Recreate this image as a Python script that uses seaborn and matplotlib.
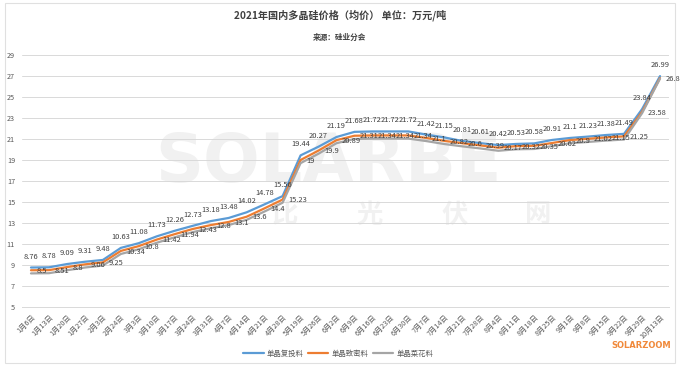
import pandas as pd
import matplotlib.pyplot as plt
import seaborn as sns
from matplotlib.patches import Rectangle

# === DATA ===
dates = ["1月6日", "1月13日", "1月20日", "1月27日", "2月3日", "2月24日", "3月3日", "3月10日",
         "3月17日", "3月24日", "3月31日", "4月7日", "4月14日", "4月21日", "4月28日", "5月19日",
         "5月26日", "6月2日", "6月9日", "6月16日", "6月23日", "6月30日", "7月7日", "7月14日",
         "7月21日", "7月28日", "8月4日", "8月11日", "8月18日", "8月25日", "9月1日", "9月8日",
         "9月15日", "9月22日", "9月29日", "10月13日"]

fu_tou = [8.76, 8.78, 9.09, 9.31, 9.48, 10.63, 11.08, 11.73, 12.26, 12.73, 13.18, 13.48,
          14.02, 14.78, 15.56, 19.44, 20.27, 21.19, 21.68, 21.72, 21.72, 21.72, 21.42, 21.15,
          20.81, 20.61, 20.42, 20.53, 20.58, 20.91, 21.1, 21.23, 21.38, 21.49, 23.84, 26.99]

zhi_mi = [8.5, 8.51, 8.8, 9.06, 9.25, 10.34, 10.8, 11.42, 11.94, 12.43, 12.8, 13.1,
          13.6, 14.4, 15.23, 19, 19.9, 20.89, 21.31, 21.34, 21.34, 21.34, 21.1, 20.82,
          20.6, 20.39, 20.17, 20.32, 20.35, 20.62, 20.9, 21.02, 21.15, 21.25, 23.58, 26.8]

# 菜花料 has no printed labels, values estimated from the line position
cai_hua = [8.2, 8.22, 8.5, 8.76, 8.95, 10.05, 10.5, 11.12, 11.64, 12.13, 12.5, 12.8,
           13.3, 14.1, 14.93, 18.7, 19.6, 20.6, 21.0, 21.04, 21.04, 21.04, 20.8, 20.52,
           20.3, 20.1, 19.88, 20.02, 20.05, 20.32, 20.6, 20.72, 20.85, 20.95, 23.45, 26.75]

series_names = ["单晶复投料", "单晶致密料", "单晶菜花料"]
colors = ["#5b9bd5", "#ed7d31", "#a5a5a5"]

# === STYLE ===
sns.set_style("white")
plt.rcParams["font.family"] = ["Noto Sans CJK SC", "DejaVu Sans"]

df = pd.DataFrame({
    "idx": list(range(len(dates))) * 3,
    "price": fu_tou + zhi_mi + cai_hua,
    "series": [series_names[0]] * len(dates) + [series_names[1]] * len(dates) + [series_names[2]] * len(dates),
})

fig = plt.figure(figsize=(6.8, 3.67), dpi=100)
ax = fig.add_axes([22 / 680, 1 - 307 / 367, 647 / 680, 252 / 367])
ax.patch.set_alpha(0)

# watermark behind the axes
fig.text(328 / 680, 1 - 163 / 367, "SOLARBE", fontsize=48, fontweight="bold",
         color="#f1f1f1", ha="center", va="center", family="DejaVu Sans", zorder=-1)
for x, ch in zip([285, 370, 455, 538], ["比", "光", "伏", "网"]):
    fig.text(x / 680, 1 - 215 / 367, ch, fontsize=19, fontweight="bold",
             color="#f1f1f1", ha="center", va="center", zorder=-1)

sns.lineplot(data=df, x="idx", y="price", hue="series", hue_order=series_names,
             palette=colors, linewidth=1.6, ax=ax, legend=False)

# data labels
for i, v in enumerate(fu_tou):
    ax.annotate(f"{v:g}", (i, v), xytext=(0, 5), textcoords="offset points",
                ha="center", va="bottom", fontsize=5.4, color="#404040")
for i, v in enumerate(zhi_mi):
    ax.annotate(f"{v:g}", (i, v), xytext=(4, -0.5), textcoords="offset points",
                ha="left", va="center", fontsize=5.4, color="#404040")

# axes
ax.set_xlim(-0.5, len(dates) - 0.5)
ax.set_ylim(5, 29)
ax.set_yticks(range(5, 30, 2))
ax.set_xticks(range(len(dates)))
ax.set_xticklabels(dates, rotation=45, ha="right", rotation_mode="anchor")
ax.tick_params(axis="x", labelsize=5.2, labelcolor="#595959", length=2.5, color="#d9d9d9", pad=2)
ax.tick_params(axis="y", labelsize=5.2, labelcolor="#595959", length=0, pad=5)
ax.set_xlabel("")
ax.set_ylabel("")
ax.grid(axis="y", color="#d9d9d9", linewidth=0.7)
ax.set_axisbelow(True)
for side in ["top", "right", "left"]:
    ax.spines[side].set_visible(False)
ax.spines["bottom"].set_color("#d9d9d9")
ax.spines["bottom"].set_linewidth(0.7)

# titles
fig.text(0.5, 1 - 15 / 367, "2021年国内多晶硅价格（均价） 单位：万元/吨",
         fontsize=7.3, fontweight="bold", color="#404040", ha="center", va="center")
fig.text(0.5, 1 - 37 / 367, "来源：硅业分会", fontsize=5.5, fontweight="bold",
         color="#404040", ha="center", va="center")

# legend
handles = [plt.Line2D([], [], color=c, linewidth=1.6) for c in colors]
fig.legend(handles, series_names, loc="center", bbox_to_anchor=(338 / 680, 1 - 354 / 367),
           ncol=3, frameon=False, fontsize=5.3, labelcolor="#595959",
           handlelength=2.8, handletextpad=0.4, columnspacing=0.6)

fig.text(641 / 680, 1 - 345 / 367, "SOLARZOOM", fontsize=6, fontweight="bold",
         color="#f0893a", ha="center", va="center", family="DejaVu Sans")

# frame
fig.patches.append(Rectangle((5 / 680, 4 / 367), 670 / 680, 360 / 367, transform=fig.transFigure,
                             fill=False, edgecolor="#e0e0e0", linewidth=0.8))

fig.savefig("out.png", dpi=100)
